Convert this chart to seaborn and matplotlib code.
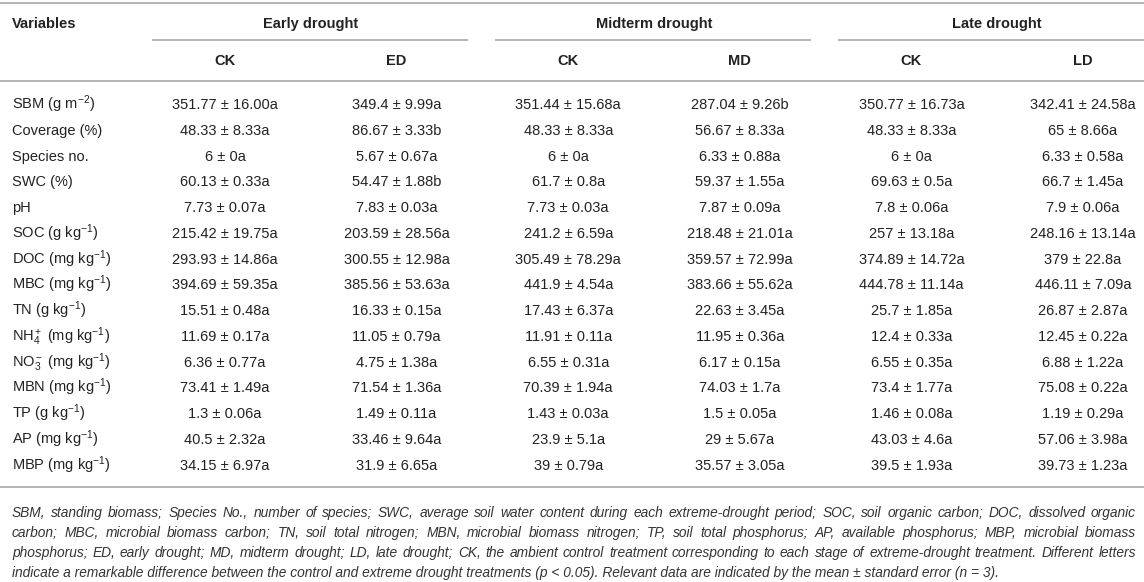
import matplotlib
matplotlib.use('agg')
import matplotlib.pyplot as plt
import seaborn as sns

sns.set_theme(style="white")
plt.rcParams['font.family'] = ['Liberation Sans', 'DejaVu Sans']
plt.rcParams['mathtext.fontset'] = 'custom'
plt.rcParams['mathtext.rm'] = 'Liberation Sans'
plt.rcParams['mathtext.it'] = 'Liberation Sans:italic'
plt.rcParams['mathtext.bf'] = 'Liberation Sans:bold'

# table content
groups = ["Early drought", "Midterm drought", "Late drought"]
treatments = ["CK", "ED", "CK", "MD", "CK", "LD"]
variables = ["SBM (g m$^{-2}$)", "Coverage (%)", "Species no.", "SWC (%)", "pH",
             "SOC (g kg$^{-1}$)", "DOC (mg kg$^{-1}$)", "MBC (mg kg$^{-1}$)",
             "TN (g kg$^{-1}$)", "NH$_4^+$ (mg kg$^{-1}$)", "NO$_3^-$ (mg kg$^{-1}$)",
             "MBN (mg kg$^{-1}$)", "TP (g kg$^{-1}$)", "AP (mg kg$^{-1}$)", "MBP (mg kg$^{-1}$)"]

early_ck = ["351.77 ± 16.00a", "48.33 ± 8.33a", "6 ± 0a", "60.13 ± 0.33a", "7.73 ± 0.07a",
            "215.42 ± 19.75a", "293.93 ± 14.86a", "394.69 ± 59.35a", "15.51 ± 0.48a",
            "11.69 ± 0.17a", "6.36 ± 0.77a", "73.41 ± 1.49a", "1.3 ± 0.06a", "40.5 ± 2.32a",
            "34.15 ± 6.97a"]
early_ed = ["349.4 ± 9.99a", "86.67 ± 3.33b", "5.67 ± 0.67a", "54.47 ± 1.88b", "7.83 ± 0.03a",
            "203.59 ± 28.56a", "300.55 ± 12.98a", "385.56 ± 53.63a", "16.33 ± 0.15a",
            "11.05 ± 0.79a", "4.75 ± 1.38a", "71.54 ± 1.36a", "1.49 ± 0.11a", "33.46 ± 9.64a",
            "31.9 ± 6.65a"]
mid_ck = ["351.44 ± 15.68a", "48.33 ± 8.33a", "6 ± 0a", "61.7 ± 0.8a", "7.73 ± 0.03a",
          "241.2 ± 6.59a", "305.49 ± 78.29a", "441.9 ± 4.54a", "17.43 ± 6.37a",
          "11.91 ± 0.11a", "6.55 ± 0.31a", "70.39 ± 1.94a", "1.43 ± 0.03a", "23.9 ± 5.1a",
          "39 ± 0.79a"]
mid_md = ["287.04 ± 9.26b", "56.67 ± 8.33a", "6.33 ± 0.88a", "59.37 ± 1.55a", "7.87 ± 0.09a",
          "218.48 ± 21.01a", "359.57 ± 72.99a", "383.66 ± 55.62a", "22.63 ± 3.45a",
          "11.95 ± 0.36a", "6.17 ± 0.15a", "74.03 ± 1.7a", "1.5 ± 0.05a", "29 ± 5.67a",
          "35.57 ± 3.05a"]
late_ck = ["350.77 ± 16.73a", "48.33 ± 8.33a", "6 ± 0a", "69.63 ± 0.5a", "7.8 ± 0.06a",
           "257 ± 13.18a", "374.89 ± 14.72a", "444.78 ± 11.14a", "25.7 ± 1.85a",
           "12.4 ± 0.33a", "6.55 ± 0.35a", "73.4 ± 1.77a", "1.46 ± 0.08a", "43.03 ± 4.6a",
           "39.5 ± 1.93a"]
late_ld = ["342.41 ± 24.58a", "65 ± 8.66a", "6.33 ± 0.58a", "66.7 ± 1.45a", "7.9 ± 0.06a",
           "248.16 ± 13.14a", "379 ± 22.8a", "446.11 ± 7.09a", "26.87 ± 2.87a",
           "12.45 ± 0.22a", "6.88 ± 1.22a", "75.08 ± 0.22a", "1.19 ± 0.29a", "57.06 ± 3.98a",
           "39.73 ± 1.23a"]

footnote = [
    "SBM, standing biomass; Species No., number of species; SWC, average soil water content during each extreme-drought period; SOC, soil organic carbon; DOC, dissolved organic",
    "carbon; MBC, microbial biomass carbon; TN, soil total nitrogen; MBN, microbial biomass nitrogen; TP, soil total phosphorus; AP, available phosphorus; MBP, microbial biomass",
    "phosphorus; ED, early drought; MD, midterm drought; LD, late drought; CK, the ambient control treatment corresponding to each stage of extreme-drought treatment. Different letters",
    "indicate a remarkable difference between the control and extreme drought treatments (p < 0.05). Relevant data are indicated by the mean ± standard error (n = 3).",
]

columns = [early_ck, early_ed, mid_ck, mid_md, late_ck, late_ld]

# layout (pixel units, y down)
W, H = 1144, 582
txt = '#222222'
rule = '#b4b4b4'
fs = 10.5
col_x0, col_dx = 225, 171.6
row_y0, row_dy = 104, 25.75
base = 5.2  # half cap height, so baselines sit on the row centre

fig = plt.figure(figsize=(W / 100, H / 100), dpi=100)
ax = fig.add_axes([0, 0, 1, 1])
ax.set_xlim(0, W)
ax.set_ylim(H, 0)
ax.axis('off')

def hline(y, x0=0, x1=W):
    ax.plot([x0, x1], [y, y], color=rule, lw=1.4, solid_capstyle='butt')

hline(3)
hline(81)
hline(487)

ax.text(12, 23 + base, "Variables", fontsize=fs, fontweight='bold', color=txt,
        va='baseline', ha='left')
for g, name in enumerate(groups):
    xa = col_x0 + col_dx * 2 * g
    xb = xa + col_dx
    ax.text((xa + xb) / 2, 23 + base, name, fontsize=fs, fontweight='bold', color=txt,
            va='baseline', ha='center')
    hline(39.5, xa - 73, min(xb + 71, W))

for j, t in enumerate(treatments):
    ax.text(col_x0 + col_dx * j, 60 + base, t, fontsize=fs, fontweight='bold', color=txt,
            va='baseline', ha='center')

for i, v in enumerate(variables):
    y = row_y0 + row_dy * i + base
    ax.text(12, y, v, fontsize=fs, color=txt, va='baseline', ha='left')
    for j, col in enumerate(columns):
        ax.text(col_x0 + col_dx * j, y, col[i], fontsize=fs, color=txt,
                va='baseline', ha='center')

# footnote, justified between the table edges (last line left as is)
renderer = fig.canvas.get_renderer()
fn_left, fn_right = 12, 1136
probe = ax.text(0, 0, footnote[2], fontsize=10, style='italic')
natural = probe.get_window_extent(renderer).width
probe.remove()
fn_fs = 10 * (fn_right - fn_left) * 0.985 / natural
fn_kw = dict(fontsize=fn_fs, style='italic', color='#333333', va='baseline', ha='left')
for k, line in enumerate(footnote):
    y = 512 + 20.3 * k + 4.6
    if k == len(footnote) - 1:
        ax.text(fn_left, y, line, **fn_kw)
        continue
    words = line.split(' ')
    items = [ax.text(0, y, w, **fn_kw) for w in words]
    widths = [it.get_window_extent(renderer).width for it in items]
    gap = (fn_right - fn_left - sum(widths)) / (len(words) - 1)
    x = fn_left
    for it, w in zip(items, widths):
        it.set_x(x)
        x += w + gap

fig.savefig('out.png', dpi=100, facecolor='white')
